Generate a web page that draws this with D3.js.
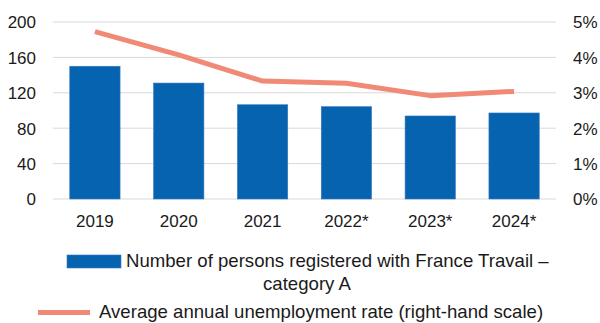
<!DOCTYPE html>
<meta charset="utf-8">
<style>
  body { margin: 0; background: #fff; }
  text { font-family: "Liberation Sans", Arial, sans-serif; fill: #1a1a1a; }
</style>
<body>
<script src="https://cdn.jsdelivr.net/npm/d3@7/dist/d3.min.js"></script>
<script>

    var years = ["2019", "2020", "2021", "2022*", "2023*", "2024*"];
    var registered = [150, 131, 106.5, 104.3, 93.8, 97.2];
    var unemployment = [4.73, 4.07, 3.33, 3.27, 2.92, 3.04];
    var leftTicks = [0, 40, 80, 120, 160, 200];
    var rightTicks = [0, 1, 2, 3, 4, 5];

    var w = 600, h = 323;
    var margin = {top: 22, right: 44, bottom: 124, left: 53};

    var svg = d3.select("body")
            .append("svg")
            .attr("width", w)
            .attr("height", h);

    var x = d3.scaleBand()
            .domain(years)
            .range([margin.left, w - margin.right])
            .paddingInner(0.4)
            .paddingOuter(0.2);

    var y = d3.scaleLinear()
            .domain([0, 200])
            .range([h - margin.bottom, margin.top]);

    var y2 = d3.scaleLinear()
            .domain([0, 5])
            .range([h - margin.bottom, margin.top]);

    // gridlines
    svg.append("g")
            .selectAll("line")
            .data(leftTicks)
            .enter()
            .append("line")
            .attr("x1", margin.left)
            .attr("x2", w - margin.right)
            .attr("y1", function(d) { return y(d); })
            .attr("y2", function(d) { return y(d); })
            .attr("stroke", "#d9d9d9")
            .attr("stroke-width", 1);

    // left axis
    var leftAxis = svg.append("g")
            .attr("transform", "translate(" + (margin.left - 17) + ",0)")
            .call(d3.axisLeft(y).tickValues(leftTicks).tickSize(0).tickPadding(0));
    leftAxis.select(".domain").remove();
    leftAxis.selectAll("text")
            .style("font-size", "17px")
            .attr("dy", "0.35em");

    // right axis
    var rightAxis = svg.append("g")
            .attr("transform", "translate(" + (w - margin.right + 17) + ",0)")
            .call(d3.axisRight(y2).tickValues(rightTicks).tickSize(0).tickPadding(0)
                    .tickFormat(function(d) { return d + "%"; }));
    rightAxis.select(".domain").remove();
    rightAxis.selectAll("text")
            .style("font-size", "17px")
            .attr("dy", "0.35em");

    // bars
    svg.selectAll("rect.bar")
            .data(registered)
            .enter()
            .append("rect")
            .attr("class", "bar")
            .attr("x", function(d, i) { return x(years[i]); })
            .attr("y", function(d) { return y(d); })
            .attr("width", x.bandwidth())
            .attr("height", function(d) { return y(0) - y(d); })
            .attr("fill", "#0563af")
            .attr("stroke", "#3a78bd")
            .attr("stroke-width", 0.6);

    // bottom axis
    var bottomAxis = svg.append("g")
            .attr("transform", "translate(0," + (h - margin.bottom) + ")")
            .call(d3.axisBottom(x).tickSize(0).tickPadding(0));
    bottomAxis.select(".domain").remove();
    bottomAxis.selectAll("text")
            .style("font-size", "17px")
            .attr("dy", null)
            .attr("y", 28);

    // line
    var line = d3.line()
            .x(function(d, i) { return x(years[i]) + x.bandwidth() / 2; })
            .y(function(d) { return y2(d); });

    svg.append("path")
            .datum(unemployment)
            .attr("d", line)
            .attr("fill", "none")
            .attr("stroke", "#f08a77")
            .attr("stroke-width", 5)
            .attr("stroke-linejoin", "round");

    // legend
    var legend = svg.append("g").style("font-size", "18.6px");
    legend.append("rect")
            .attr("x", 67)
            .attr("y", 255)
            .attr("width", 54)
            .attr("height", 13)
            .attr("fill", "#0563af")
            .attr("stroke", "#3a78bd")
            .attr("stroke-width", 0.6);
    legend.append("text")
            .attr("x", 126)
            .attr("y", 267)
            .text("Number of persons registered with France Travail \u2013");
    legend.append("text")
            .attr("x", 307)
            .attr("y", 289.5)
            .attr("text-anchor", "middle")
            .text("category A");
    legend.append("line")
            .attr("x1", 38)
            .attr("x2", 90)
            .attr("y1", 312.5)
            .attr("y2", 312.5)
            .attr("stroke", "#f08a77")
            .attr("stroke-width", 5);
    legend.append("text")
            .attr("x", 99)
            .attr("y", 318)
            .text("Average annual unemployment rate (right-hand scale)");

</script>
